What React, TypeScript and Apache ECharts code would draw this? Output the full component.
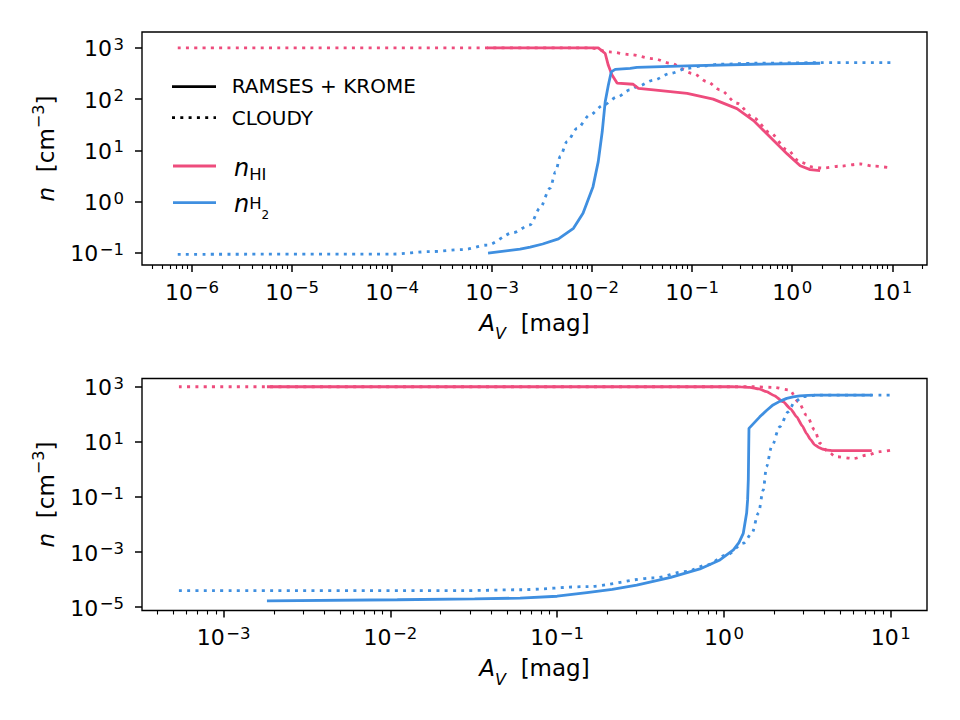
import React, { useEffect, useRef } from "react";
import * as echarts from "echarts";

const PINK = "#ee4c7d";
const BLUE = "#3f8fe0";
const FONT = "DejaVu Sans";

// ---- upper panel: A_V [mag] vs n [cm^-3] ----
const topCloudyHiAv = [7.2e-7, 9.5e-3, 1.5e-2, 2.4e-2, 4.1e-2, 6.0e-2, 0.102, 0.141, 0.19, 0.28, 0.41, 0.6, 0.89, 1.2, 1.62, 2.0, 3.0, 4.8, 6.5, 10];
const topCloudyHiN = [1000, 1000, 832, 741, 617, 501, 316, 219, 151, 83, 43, 22, 10.2, 5.9, 4.7, 4.5, 4.9, 5.4, 4.9, 4.5];

const topRamsesHiAv = [8.9e-4, 1.15e-2, 1.35e-2, 1.45e-2, 1.58e-2, 1.78e-2, 2.57e-2, 2.9e-2, 4.1e-2, 8.9e-2, 0.162, 0.28, 0.41, 0.6, 0.89, 1.2, 1.51, 1.9];
const topRamsesHiN = [1000, 1000, 776, 457, 295, 204, 195, 162, 151, 129, 100, 65, 38, 18.2, 8.5, 5.0, 4.2, 4.0];

const topCloudyH2Av = [7.2e-7, 1.0e-4, 2.4e-4, 5.1e-4, 8.9e-4, 1.62e-3, 2.4e-3, 3.0e-3, 3.8e-3, 4.3e-3, 4.8e-3, 5.6e-3, 7.1e-3, 9.5e-3, 1.29e-2, 1.78e-2, 2.4e-2, 2.8e-2, 4.1e-2, 6.0e-2, 8.9e-2, 0.129, 0.19, 0.41, 1.9, 10];
const topCloudyH2N = [0.093, 0.094, 0.105, 0.115, 0.141, 0.245, 0.35, 0.74, 1.82, 3.8, 7.6, 14.8, 27, 49, 76, 110, 151, 174, 234, 316, 398, 447, 479, 501, 513, 513];

const topRamsesH2Av = [9.1e-4, 1.9e-3, 2.4e-3, 3.2e-3, 4.6e-3, 6.5e-3, 8.1e-3, 1.02e-2, 1.15e-2, 1.26e-2, 1.35e-2, 1.45e-2, 1.55e-2, 1.7e-2, 2.4e-2, 2.8e-2, 8.9e-2, 0.41, 1.9];
const topRamsesH2N = [0.098, 0.117, 0.129, 0.148, 0.186, 0.3, 0.59, 1.95, 6.0, 23, 89, 186, 339, 380, 398, 417, 447, 479, 501];

// ---- lower panel ----
const botCloudyHiAv = [5.4e-4, 1.5, 1.97, 2.48, 2.79, 3.13, 3.5, 3.76, 4.2, 4.7, 6.0, 7.2, 8.6, 10];
const botCloudyHiN = [1000, 1000, 955, 759, 288, 93, 27, 8.9, 4.4, 2.9, 2.5, 3.3, 4.4, 5.0];

const botRamsesHiAv = [1.82e-3, 1.12, 1.26, 1.43, 1.62, 1.8, 2.0, 2.26, 2.51, 2.73, 2.95, 3.13, 3.31, 3.5, 3.72, 3.94, 4.17, 4.5, 7.7];
const botRamsesHiN = [1000, 1000, 990, 955, 832, 661, 479, 288, 158, 81, 38, 20, 12, 7.8, 6.2, 5.4, 5.0, 4.8, 4.8];

const botCloudyH2Av = [5.4e-4, 2.75e-2, 6.0e-2, 0.151, 0.38, 0.6, 0.79, 1.04, 1.31, 1.47, 1.61, 1.72, 1.8, 1.93, 2.16, 2.43, 2.66, 2.99, 3.6, 10];
const botCloudyH2N = [4.0e-5, 4.0e-5, 4.3e-5, 5.6e-5, 1.15e-4, 2.0e-4, 3.4e-4, 7.9e-4, 2.1e-3, 4.8e-3, 2.6e-2, 0.178, 1.26, 6.6, 35, 123, 288, 437, 501, 501];

const botRamsesH2Av = [1.82e-3, 1.1e-2, 3.2e-2, 6.0e-2, 0.1, 0.151, 0.214, 0.3, 0.48, 0.718, 0.946, 1.14, 1.23, 1.306, 1.368, 1.387, 1.4, 1.413, 1.64, 1.8, 1.97, 2.16, 2.38, 2.6, 2.85, 3.2, 3.55, 7.7];
const botRamsesH2N = [1.7e-5, 1.86e-5, 2.0e-5, 2.14e-5, 2.5e-5, 3.4e-5, 4.4e-5, 6.3e-5, 1.2e-4, 2.45e-4, 5.2e-4, 1.2e-3, 2.2e-3, 4.8e-3, 2.6e-2, 8.0e-2, 0.42, 31, 81, 138, 219, 295, 380, 427, 468, 490, 495, 501];

// ---- tick values ----
const topXMajor = [1e-6, 1e-5, 1e-4, 1e-3, 1e-2, 1e-1, 1, 10];
const topYMajor = [1e-1, 1, 10, 100, 1000];
const botXMajor = [1e-3, 1e-2, 1e-1, 1, 10];
const botYMajor = [1e-5, 1e-3, 1e-1, 10, 1000];

const TOP_X = [Math.pow(10, -6.5), Math.pow(10, 1.347)];
const TOP_Y = [Math.pow(10, -1.24), Math.pow(10, 3.31)];
const BOT_X = [Math.pow(10, -3.489), Math.pow(10, 1.2175)];
const BOT_Y = [Math.pow(10, -5.12), Math.pow(10, 3.3)];

function minorTicks(range: number[]) {
  const out: number[] = [];
  for (let e = -8; e <= 2; e++) {
    for (let k = 2; k <= 9; k++) {
      const v = k * Math.pow(10, e);
      if (v > range[0] && v < range[1]) out.push(v);
    }
  }
  return out;
}

const powLabel = (v: number) => {
  const e = Math.round(Math.log10(v));
  return `{b|10}{s|${e < 0 ? "\u2212" + -e : e}}`;
};

// rich tokens are all top-aligned; padding top sets each token's height in the line
const tickRich = {
  b: { fontFamily: FONT, fontSize: 22, lineHeight: 24, verticalAlign: "top", padding: [2, 0, 0, 0], color: "#000" },
  s: { fontFamily: FONT, fontSize: 16.5, lineHeight: 24, verticalAlign: "top", padding: [0, 0, 0, 1.5], color: "#000" },
};

const xNameRich = {
  a: { fontFamily: FONT, fontSize: 23, fontStyle: "italic", lineHeight: 31, verticalAlign: "top", color: "#000" },
  v: { fontFamily: FONT, fontSize: 16, fontStyle: "italic", lineHeight: 31, verticalAlign: "top", padding: [14.5, 0, 0, 0], color: "#000" },
  t: { fontFamily: FONT, fontSize: 23, lineHeight: 31, verticalAlign: "top", color: "#000" },
};

const yNameRich = {
  n: { fontFamily: FONT, fontSize: 23, fontStyle: "italic", lineHeight: 28, verticalAlign: "top", padding: [4, 0, 0, 0], color: "#000" },
  t: { fontFamily: FONT, fontSize: 23, lineHeight: 28, verticalAlign: "top", padding: [4, 0, 0, 0], color: "#000" },
  s: { fontFamily: FONT, fontSize: 16, lineHeight: 28, verticalAlign: "top", color: "#000" },
};

function majorX(gridIndex: number, range: number[], ticks: number[]) {
  return {
    type: "log", logBase: 10, gridIndex, position: "bottom", min: range[0], max: range[1],
    axisLine: { show: false },
    splitLine: { show: false },
    axisTick: { show: true, length: 7, lineStyle: { color: "#000", width: 1.5 }, customValues: ticks },
    axisLabel: { show: true, margin: 14, formatter: powLabel, rich: tickRich, customValues: ticks },
    name: "{a|A}{v|V}{t|  [mag]}",
    nameLocation: "middle",
    nameGap: 46,
    nameTextStyle: { rich: xNameRich },
  };
}

function minorX(gridIndex: number, range: number[]) {
  const ticks = minorTicks(range);
  return {
    type: "log", logBase: 10, gridIndex, position: "bottom", offset: 0, min: range[0], max: range[1],
    axisLine: { show: false },
    splitLine: { show: false },
    axisTick: { show: true, length: 4, lineStyle: { color: "#000", width: 1.1 }, customValues: ticks },
    axisLabel: { show: false },
  };
}

function logY(gridIndex: number, range: number[], ticks: number[]) {
  return {
    type: "log", logBase: 10, gridIndex, min: range[0], max: range[1],
    axisLine: { show: false },
    splitLine: { show: false },
    axisTick: { show: true, length: 7, lineStyle: { color: "#000", width: 1.5 }, customValues: ticks },
    axisLabel: { show: true, margin: 18, formatter: powLabel, rich: tickRich, customValues: ticks },
    name: "{n|n}{t|  [cm}{s|\u22123}{t|]}",
    nameLocation: "middle",
    nameGap: 84,
    nameTextStyle: { rich: yNameRich },
  };
}

function curve(av: number[], n: number[], color: string, dotted: boolean, xAxisIndex: number, yAxisIndex: number, smooth: number | boolean) {
  return {
    type: "line",
    xAxisIndex,
    yAxisIndex,
    data: av.map((x, i) => [x, n[i]]),
    showSymbol: false,
    symbol: "none",
    smooth,
    smoothMonotone: "x",
    silent: true,
    lineStyle: { color, width: 2.8, type: dotted ? [3, 5.3] : "solid", cap: "butt" },
  };
}

const gridBase = {
  show: true,
  borderColor: "#000",
  borderWidth: 1.4,
  backgroundColor: "transparent",
  containLabel: false,
  outerBoundsMode: "none",
};

const legendRichHI = {
  n: { fontFamily: FONT, fontSize: 24, fontStyle: "italic", lineHeight: 28, verticalAlign: "top", fill: "#000", color: "#000" },
  s: { fontFamily: FONT, fontSize: 16.5, lineHeight: 28, verticalAlign: "top", padding: [10.3, 0, 0, 0], fill: "#000", color: "#000" },
};

const legendRichH2 = {
  n: { fontFamily: FONT, fontSize: 24, fontStyle: "italic", lineHeight: 32, verticalAlign: "top", padding: [2, 0, 0, 0], fill: "#000", color: "#000" },
  h: { fontFamily: FONT, fontSize: 16.5, lineHeight: 32, verticalAlign: "top", padding: [4.8, 0, 0, 0], fill: "#000", color: "#000" },
  d: { fontFamily: FONT, fontSize: 12, lineHeight: 32, verticalAlign: "top", padding: [19.3, 0, 0, 0], fill: "#000", color: "#000" },
};

export default function App() {
  const ref = useRef<HTMLDivElement>(null);

  useEffect(() => {
    if (!ref.current) return;
    const chart = echarts.init(ref.current, undefined, { renderer: "svg" });
    const legendText = { fontFamily: FONT, fontSize: 20, fill: "#000", verticalAlign: "middle", align: "left" };
    chart.setOption({
      animation: false,
      backgroundColor: "#fff",
      grid: [
        { ...gridBase, left: 142, top: 32, width: 785, height: 233 },
        { ...gridBase, left: 142, top: 378.5, width: 785, height: 232 },
      ],
      xAxis: [
        majorX(0, TOP_X, topXMajor),
        minorX(0, TOP_X),
        majorX(1, BOT_X, botXMajor),
        minorX(1, BOT_X),
      ],
      yAxis: [logY(0, TOP_Y, topYMajor), logY(1, BOT_Y, botYMajor)],
      series: [
        curve(topCloudyHiAv, topCloudyHiN, PINK, true, 0, 0, 0.3),
        curve(topCloudyH2Av, topCloudyH2N, BLUE, true, 0, 0, 0.3),
        curve(topRamsesHiAv, topRamsesHiN, PINK, false, 0, 0, false),
        curve(topRamsesH2Av, topRamsesH2N, BLUE, false, 0, 0, false),
        curve(botCloudyHiAv, botCloudyHiN, PINK, true, 2, 1, 0.3),
        curve(botCloudyH2Av, botCloudyH2N, BLUE, true, 2, 1, 0.3),
        curve(botRamsesHiAv, botRamsesHiN, PINK, false, 2, 1, 0.2),
        curve(botRamsesH2Av, botRamsesH2N, BLUE, false, 2, 1, false),
      ],
      graphic: [
        { type: "line", shape: { x1: 172, y1: 86.7, x2: 216, y2: 86.7 }, style: { stroke: "#000", lineWidth: 2.8 } },
        { type: "text", x: 231.7, y: 85.5, style: { ...legendText, text: "RAMSES + KROME" } },
        { type: "line", shape: { x1: 172, y1: 117.7, x2: 216, y2: 117.7 }, style: { stroke: "#000", lineWidth: 2.8, lineDash: [3, 5.3] } },
        { type: "text", x: 231.7, y: 117.7, style: { ...legendText, text: "CLOUDY" } },
        { type: "line", shape: { x1: 173, y1: 166, x2: 216, y2: 166 }, style: { stroke: PINK, lineWidth: 2.8 } },
        {
          type: "text", x: 234, y: 169.5,
          style: { text: "{n|n}{s|HI}", verticalAlign: "middle", align: "left", rich: legendRichHI },
        },
        { type: "line", shape: { x1: 173, y1: 202.7, x2: 216, y2: 202.7 }, style: { stroke: BLUE, lineWidth: 2.8 } },
        {
          type: "text", x: 234, y: 206.2,
          style: { text: "{n|n}{h|H}{d|2}", verticalAlign: "middle", align: "left", rich: legendRichH2 },
        },
      ],
    });
    return () => chart.dispose();
  }, []);

  return (
    <div
      ref={ref}
      style={{ position: "absolute", left: 0, top: 0, width: 960, height: 720, background: "#fff" }}
    />
  );
}
